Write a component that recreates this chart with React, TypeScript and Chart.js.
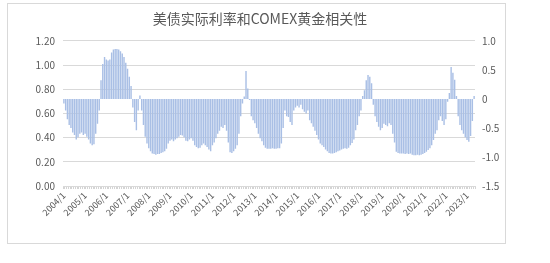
import React, { useEffect, useRef } from "react";
import { Chart, registerables } from "chart.js";

Chart.register(...registerables);

const TITLE = "美债实际利率和COMEX黄金相关性";

// Monthly categories 2004/1 .. 2023/5
const START_YEAR = 2004;
const MONTH_COUNT = 233;
const categories: string[] = Array.from({ length: MONTH_COUNT }, (_, i) => {
  const y = START_YEAR + Math.floor(i / 12);
  const m = (i % 12) + 1;
  return `${y}/${m}`;
});

// Correlation values by year (right axis)
const y2004 = [-0.08, -0.2, -0.35, -0.45, -0.5, -0.58, -0.62, -0.7, -0.66, -0.6, -0.58, -0.62];
const y2005 = [-0.6, -0.65, -0.7, -0.77, -0.8, -0.78, -0.6, -0.43, -0.2, 0.32, 0.6, 0.72];
const y2006 = [0.68, 0.66, 0.68, 0.8, 0.85, 0.86, 0.86, 0.85, 0.82, 0.78, 0.72, 0.62];
const y2007 = [0.52, 0.38, 0.22, -0.15, -0.4, -0.54, -0.2, 0.06, -0.2, -0.45, -0.65, -0.77];
const y2008 = [-0.85, -0.9, -0.94, -0.95, -0.96, -0.95, -0.95, -0.93, -0.92, -0.9, -0.86, -0.77];
const y2009 = [-0.72, -0.7, -0.73, -0.7, -0.68, -0.65, -0.62, -0.63, -0.66, -0.72, -0.73, -0.7];
const y2010 = [-0.68, -0.72, -0.8, -0.83, -0.85, -0.84, -0.8, -0.77, -0.8, -0.83, -0.87, -0.9];
const y2011 = [-0.8, -0.75, -0.68, -0.6, -0.55, -0.48, -0.5, -0.45, -0.55, -0.75, -0.92, -0.93];
const y2012 = [-0.9, -0.86, -0.8, -0.6, -0.3, -0.08, 0.04, 0.48, 0.18, -0.02, -0.3, -0.37];
const y2013 = [-0.42, -0.5, -0.6, -0.68, -0.73, -0.8, -0.84, -0.86, -0.86, -0.86, -0.85, -0.86];
const y2014 = [-0.86, -0.85, -0.85, -0.77, -0.5, -0.2, -0.3, -0.31, -0.4, -0.45, -0.2, -0.15];
const y2015 = [-0.12, -0.15, -0.1, -0.18, -0.22, -0.25, -0.2, -0.37, -0.42, -0.48, -0.55, -0.62];
const y2016 = [-0.7, -0.77, -0.8, -0.83, -0.87, -0.9, -0.93, -0.94, -0.94, -0.93, -0.92, -0.9];
const y2017 = [-0.89, -0.87, -0.86, -0.85, -0.86, -0.84, -0.8, -0.76, -0.7, -0.54, -0.45, -0.3];
const y2018 = [-0.2, 0.05, 0.15, 0.32, 0.41, 0.38, 0.27, -0.1, -0.3, -0.4, -0.48, -0.54];
const y2019 = [-0.5, -0.43, -0.45, -0.47, -0.42, -0.45, -0.6, -0.75, -0.91, -0.93, -0.94, -0.94];
const y2020 = [-0.94, -0.95, -0.94, -0.95, -0.94, -0.96, -0.97, -0.97, -0.96, -0.97, -0.96, -0.95];
const y2021 = [-0.93, -0.91, -0.88, -0.85, -0.8, -0.71, -0.6, -0.54, -0.37, -0.3, -0.38, -0.45];
const y2022 = [-0.35, -0.05, 0.1, 0.55, 0.45, 0.33, 0.05, -0.3, -0.45, -0.54, -0.6, -0.66];
const y2023 = [-0.71, -0.74, -0.64, -0.38, 0.05];

const correlation: number[] = [
  ...y2004, ...y2005, ...y2006, ...y2007, ...y2008, ...y2009, ...y2010,
  ...y2011, ...y2012, ...y2013, ...y2014, ...y2015, ...y2016, ...y2017,
  ...y2018, ...y2019, ...y2020, ...y2021, ...y2022, ...y2023,
];

const leftTicks = { min: 0, max: 1.2, step: 0.2 };
const rightTicks = { min: -1.5, max: 1, step: 0.5 };

const TEXT = "#595959";
const GRID = "#d9d9d9";
const FONT = "'Noto Sans CJK SC', 'Noto Sans', sans-serif";

export default function App() {
  const ref = useRef<HTMLCanvasElement | null>(null);

  useEffect(() => {
    if (!ref.current) return;
    const chart = new Chart(ref.current, {
      type: "bar",
      data: {
        labels: categories,
        datasets: [
          {
            label: "相关性",
            data: correlation,
            yAxisID: "y1",
            backgroundColor: "#a9bfe5",
            borderColor: "#8aa5d6",
            borderWidth: 0,
            barPercentage: 0.8,
            categoryPercentage: 1,
          },
        ],
      },
      options: {
        animation: false,
        responsive: false,
        maintainAspectRatio: false,
        layout: { padding: { left: 0, right: 30, top: 0, bottom: 0 } },
        plugins: {
          legend: { display: false },
          tooltip: { enabled: false },
          title: {
            display: true,
            text: TITLE,
            color: TEXT,
            font: { family: FONT, size: 14, weight: "normal" },
            padding: { top: 10, bottom: 14 },
          },
        },
        scales: {
          x: {
            type: "category",
            offset: true,
            grid: {
              display: true,
              drawOnChartArea: false,
              drawTicks: true,
              tickLength: 3,
              color: "#d4d4d4",
            },
            border: { display: true, color: GRID },
            ticks: {
              autoSkip: false,
              minRotation: 45,
              maxRotation: 45,
              padding: 1,
              color: TEXT,
              font: { family: FONT, size: 9 },
              callback: (_v: any, i: number) => (i % 12 === 0 ? categories[i] : ""),
            },
            afterFit: (s: any) => {
              s.height = 77;
            },
          },
          y: {
            type: "linear",
            position: "left",
            min: leftTicks.min,
            max: leftTicks.max,
            grid: { color: GRID, drawTicks: false },
            border: { display: false },
            ticks: {
              stepSize: leftTicks.step,
              padding: 8,
              color: TEXT,
              font: { family: FONT, size: 10 },
              callback: (v: any) => Number(v).toFixed(2),
            },
            afterFit: (s: any) => {
              s.width = 63;
            },
          },
          y1: {
            type: "linear",
            position: "right",
            min: rightTicks.min,
            max: rightTicks.max,
            grid: { display: false, drawTicks: false },
            border: { display: false },
            ticks: {
              stepSize: rightTicks.step,
              padding: 7,
              color: TEXT,
              font: { family: FONT, size: 10 },
            },
            afterFit: (s: any) => {
              s.width = 45;
            },
          },
        },
      },
    });
    return () => chart.destroy();
  }, []);

  return (
    <div style={{ position: "fixed", left: 0, top: 0, width: 550, height: 263, background: "#fff" }}>
      <div
        style={{
          position: "absolute",
          left: 7,
          top: 3,
          width: 499,
          height: 241,
          border: "1px solid #d9d9d9",
          boxSizing: "border-box",
        }}
      />
      <canvas ref={ref} width={550} height={263} style={{ position: "absolute", left: 0, top: 0 }} />
    </div>
  );
}
